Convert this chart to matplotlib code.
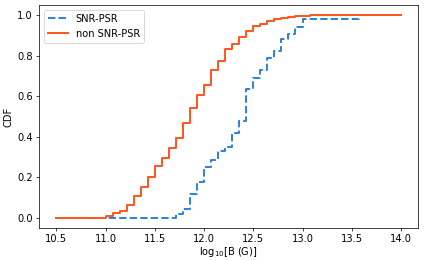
import numpy as np
import matplotlib
matplotlib.use('Agg')
import matplotlib.pyplot as plt


# Grid of log10(B) values the CDFs are evaluated on
log_b_grid = np.linspace(10.5, 14.0, 50)

# CDF of the SNR-associated pulsars
cdf_snr = ([0.0] * 17 +
           [0.02, 0.042, 0.117, 0.175, 0.252, 0.286, 0.329, 0.35, 0.42, 0.48,
            0.638, 0.692, 0.728, 0.789, 0.821, 0.882, 0.906, 0.94, 0.979] +
           [0.979] * 7 +
           [1.0] * 7)

# CDF of the other pulsars
cdf_non_snr = ([0.0] * 7 +
               [0.01, 0.025, 0.036, 0.065, 0.11, 0.155, 0.203, 0.254, 0.298, 0.347,
                0.394, 0.47, 0.54, 0.607, 0.656, 0.728, 0.776, 0.835, 0.859, 0.892,
                0.92, 0.944, 0.954, 0.972, 0.98, 0.987, 0.993, 0.996, 0.998] +
               [1.0] * 14)

labels = ['SNR-PSR', 'non SNR-PSR']


def main():
    plt.rcParams['font.size'] = 11
    dpi = 65
    fig = plt.figure(figsize=(425 / dpi, 261 / dpi), dpi=dpi)
    ax = fig.add_axes([0.092, 0.126, 0.892, 0.855])

    ax.step(log_b_grid, cdf_snr, where='post', color='#2b84dc', lw=2.2,
            ls='--', label=labels[0])
    ax.step(log_b_grid, cdf_non_snr, where='post', color='#ff5722', lw=2.2,
            label=labels[1])

    ax.set_xticks([10.5, 11.0, 11.5, 12.0, 12.5, 13.0, 13.5, 14.0])
    ax.set_xlabel(r'log$_{10}$[B (G)]', labelpad=1)
    ax.set_ylabel('CDF')
    ax.legend(loc='upper left')

    fig.savefig('out.png', dpi=dpi)


if __name__ == '__main__':
    main()
